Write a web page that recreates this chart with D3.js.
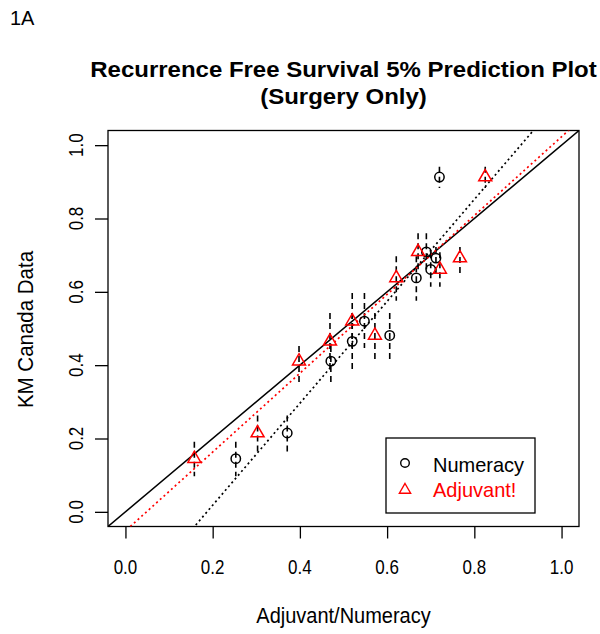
<!DOCTYPE html>
<html>
<head>
<meta charset="utf-8">
<script src="https://cdn.jsdelivr.net/npm/d3@7"></script>
<style>
  html, body { margin: 0; padding: 0; background: #fff; }
  svg { display: block; }
  text { font-family: "Liberation Sans", Arial, Helvetica, sans-serif; }
</style>
</head>
<body>
<svg id="chart" width="600" height="634"></svg>
<script>
// ---------------- data ----------------
const kmCanada     = [0.145, 0.215, 0.411, 0.465, 0.520, 0.481, 0.638, 0.709, 0.661, 0.692, 0.913];
const kmLower      = [0.097, 0.160, 0.352, 0.387, 0.447, 0.409, 0.576, 0.658, 0.614, 0.646, 0.883];
const kmUpper      = [0.191, 0.263, 0.452, 0.542, 0.597, 0.542, 0.697, 0.760, 0.708, 0.722, 0.941];
const numeracyPred = [0.253, 0.371, 0.471, 0.520, 0.548, 0.606, 0.667, 0.690, 0.700, 0.712, 0.720];
const adjuvantPred = [0.158, 0.303, 0.398, 0.469, 0.520, 0.572, 0.621, 0.671, 0.721, 0.767, 0.825];

const fitNames      = ["identity", "numeracy", "adjuvant"];
const fitIntercepts = [0, -0.260, -0.052];
const fitSlopes     = [1, 1.39, 1.075];

const tickValues = [0.0, 0.2, 0.4, 0.6, 0.8, 1.0];
const tickLabels = ["0.0", "0.2", "0.4", "0.6", "0.8", "1.0"];

const seriesNames = ["Numeracy", "Adjuvant!"];
const seriesColors = ["#000000", "#ff0000"];

const panelLabel = "1A";
const titleLines = ["Recurrence Free Survival 5% Prediction Plot", "(Surgery Only)"];
const xTitle = "Adjuvant/Numeracy";
const yTitle = "KM Canada Data";

// ---------------- layout ----------------
const svg = d3.select("#chart");
const plot = { left: 108, right: 579, top: 130.5, bottom: 526.5 };
const x = d3.scaleLinear().domain([-0.04, 1.04]).range([plot.left, plot.right]);
const y = d3.scaleLinear().domain([-0.04, 1.04]).range([plot.bottom, plot.top]);

function txt(parent, px, py, str, o) {
  o = o || {};
  const rot = o.rotate || 0, sy = o.sy || 1;
  return parent.append("text")
    .attr("transform", `translate(${px},${py}) rotate(${rot}) scale(1,${sy})`)
    .attr("text-anchor", o.anchor || "middle")
    .attr("font-size", o.size || 16)
    .attr("font-weight", o.weight || "normal")
    .attr("fill", o.fill || "#000")
    .text(str);
}

// clip
svg.append("defs").append("clipPath").attr("id", "clip")
  .append("rect")
  .attr("x", plot.left).attr("y", plot.top)
  .attr("width", plot.right - plot.left).attr("height", plot.bottom - plot.top);

// ---------------- axes ----------------
const xAxis = d3.axisBottom(x).tickValues(tickValues).tickFormat(() => "").tickSize(12).tickSizeOuter(0);
const gx = svg.append("g").attr("transform", `translate(0,${plot.bottom})`).call(xAxis);
gx.select(".domain").remove();
gx.selectAll(".tick line").attr("stroke", "#000").attr("stroke-width", 1.3);
tickValues.forEach((v, i) => txt(svg, x(v), 573.5, tickLabels[i], { size: 17, sy: 1.15 }));

const yAxis = d3.axisLeft(y).tickValues(tickValues).tickFormat(() => "").tickSize(13).tickSizeOuter(0);
const gy = svg.append("g").attr("transform", `translate(${plot.left},0)`).call(yAxis);
gy.select(".domain").remove();
gy.selectAll(".tick line").attr("stroke", "#000").attr("stroke-width", 1.3);
tickValues.forEach((v, i) => txt(svg, 82.5, y(v), tickLabels[i], { size: 17, sy: 1.15, rotate: -90 }));

// box
svg.append("rect")
  .attr("x", plot.left).attr("y", plot.top)
  .attr("width", plot.right - plot.left).attr("height", plot.bottom - plot.top)
  .attr("fill", "none").attr("stroke", "#000").attr("stroke-width", 1.3);

// ---------------- titles ----------------
txt(svg, 10, 25, panelLabel, { size: 20, anchor: "start", sy: 1.0 });
const cx = (plot.left + plot.right) / 2;
txt(svg, cx, 77, titleLines[0], { size: 24, weight: "bold", sy: 0.95 });
txt(svg, cx, 104, titleLines[1], { size: 24, weight: "bold", sy: 0.95 });
txt(svg, cx, 623, xTitle, { size: 20, sy: 1.08 });
txt(svg, 33, (plot.top + plot.bottom) / 2 + 1, yTitle, { size: 20.5, sy: 1.08, rotate: -90 });

// ---------------- marks ----------------
const marks = svg.append("g").attr("clip-path", "url(#clip)");

// error bars (dashed)
const errData = [];
kmCanada.forEach((v, i) => {
  errData.push({ px: numeracyPred[i], lo: kmLower[i], hi: kmUpper[i] });
  errData.push({ px: adjuvantPred[i], lo: kmLower[i], hi: kmUpper[i] });
});
marks.selectAll("line.err").data(errData).enter().append("line")
  .attr("class", "err")
  .attr("x1", d => x(d.px)).attr("x2", d => x(d.px))
  .attr("y1", d => y(d.hi)).attr("y2", d => y(d.lo))
  .attr("stroke", "#000").attr("stroke-width", 1.6)
  .attr("stroke-dasharray", "6,4");

// fit lines
const fitStyles = [
  { stroke: "#000", dash: null, width: 1.5 },
  { stroke: "#000", dash: "2,3", width: 1.7 },
  { stroke: "#ff0000", dash: "2,3", width: 1.7 }
];
fitNames.forEach((nm, i) => {
  const x0 = -0.04, x1 = 1.04;
  marks.append("line")
    .attr("x1", x(x0)).attr("y1", y(fitIntercepts[i] + fitSlopes[i] * x0))
    .attr("x2", x(x1)).attr("y2", y(fitIntercepts[i] + fitSlopes[i] * x1))
    .attr("stroke", fitStyles[i].stroke)
    .attr("stroke-width", fitStyles[i].width)
    .attr("stroke-dasharray", fitStyles[i].dash);
});

// triangle path (R pch 2 style)
function triPath(cx0, cy0, r) {
  const h = Math.sqrt(3) / 2 * r;
  return `M${cx0},${cy0 - r}L${cx0 + h},${cy0 + r / 2}L${cx0 - h},${cy0 + r / 2}Z`;
}

// circles (Numeracy)
marks.selectAll("circle.num").data(kmCanada).enter().append("circle")
  .attr("class", "num")
  .attr("cx", (d, i) => x(numeracyPred[i])).attr("cy", d => y(d))
  .attr("r", 4.7)
  .attr("fill", "none").attr("stroke", seriesColors[0]).attr("stroke-width", 1.5);

// triangles (Adjuvant!)
marks.selectAll("path.adj").data(kmCanada).enter().append("path")
  .attr("class", "adj")
  .attr("d", (d, i) => triPath(x(adjuvantPred[i]), y(d), 7.5))
  .attr("fill", "none").attr("stroke", seriesColors[1]).attr("stroke-width", 1.5);

// ---------------- legend ----------------
const lg = svg.append("g");
lg.append("rect").attr("x", 386).attr("y", 438).attr("width", 149).attr("height", 75)
  .attr("fill", "#fff").attr("stroke", "#000").attr("stroke-width", 1.3);
lg.append("circle").attr("cx", 405).attr("cy", 463).attr("r", 4.3)
  .attr("fill", "none").attr("stroke", seriesColors[0]).attr("stroke-width", 1.4);
lg.append("path").attr("d", triPath(405, 490, 6.5))
  .attr("fill", "none").attr("stroke", seriesColors[1]).attr("stroke-width", 1.4);
txt(lg, 433, 471.5, seriesNames[0], { size: 20, anchor: "start", sy: 1.05, fill: seriesColors[0] });
txt(lg, 433, 497, seriesNames[1], { size: 20, anchor: "start", sy: 1.05, fill: seriesColors[1] });
</script>
</body>
</html>
